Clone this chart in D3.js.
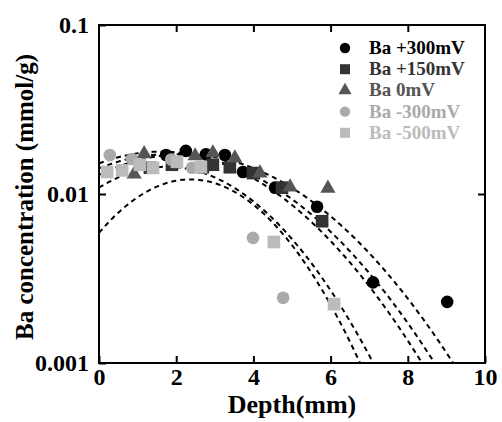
<!DOCTYPE html>
<html>
<head>
<meta charset="utf-8">
<script src="https://cdn.jsdelivr.net/npm/d3@7"></script>
<style>
  body { margin: 0; background: #fff; }
  svg { display: block; font-family: "Liberation Serif", "Times New Roman", serif; font-weight: bold; }
</style>
</head>
<body>
<script>
// data (depth in mm, concentration in mmol/g)
var depthP300 = [1.74, 2.25, 2.77, 3.26, 3.73, 4.56, 5.65, 7.10, 9.02];
var concP300  = [0.0170, 0.0180, 0.0172, 0.0170, 0.0135, 0.0109, 0.0084, 0.0030, 0.0023];

var depthP150 = [1.32, 1.89, 2.69, 2.95, 3.39, 3.99, 4.74, 5.78];
var concP150  = [0.0143, 0.0149, 0.0144, 0.0149, 0.0144, 0.0133, 0.0109, 0.0069];

var depthZero = [0.91, 1.17, 2.49, 2.95, 3.52, 4.17, 4.95, 5.93];
var concZero  = [0.0131, 0.0173, 0.0168, 0.0175, 0.0163, 0.0133, 0.0110, 0.0108];

var depthM300 = [0.28, 0.85, 1.87, 2.41, 3.99, 4.77];
var concM300  = [0.0170, 0.0161, 0.0160, 0.0143, 0.0055, 0.00243];

var depthM500 = [0.21, 0.60, 1.06, 1.40, 2.02, 2.64, 4.53, 6.09];
var concM500  = [0.0135, 0.0138, 0.0149, 0.0143, 0.0155, 0.0144, 0.0052, 0.00223];

var seriesNames = ["Ba +300mV", "Ba +150mV", "Ba 0mV", "Ba -300mV", "Ba -500mV"];

// gaussian fit curves: peak value, peak depth, log-curvature
var fitPeak   = [0.0122, 0.0145, 0.0178, 0.0172, 0.0172];
var fitCenter = [2.37, 1.75, 1.6, 1.8, 2.2];
var fitK      = [0.0563, 0.0405, 0.0273, 0.026, 0.0254];

var xTicks = [0, 2, 4, 6, 8, 10];
var yTicks = [0.001, 0.01, 0.1];
var yTickLabels = ["0.001", "0.01", "0.1"];

var W = 502, H = 422;
var margin = {top: 25, right: 17, bottom: 59, left: 99};
var width = W - margin.left - margin.right;
var height = H - margin.top - margin.bottom;

var svg = d3.select("body").append("svg")
    .attr("width", W)
    .attr("height", H);

var g = svg.append("g")
    .attr("transform", "translate(" + margin.left + "," + margin.top + ")");

var x = d3.scaleLinear().domain([0, 10]).range([0, width]);
var y = d3.scaleLog().domain([0.001, 0.1]).range([height, 0]);

g.append("clipPath").attr("id", "plotclip")
  .append("rect").attr("width", width).attr("height", height);

// fit curves
var line = d3.line()
    .x(function(d) { return x(d[0]); })
    .y(function(d) { return y(d[1]); });

var curveGroup = g.append("g").attr("clip-path", "url(#plotclip)");
fitPeak.forEach(function(p, i) {
    var pts = d3.range(0, 10.001, 0.05).map(function(t) {
        var lg = Math.log10(p) - fitK[i] * (t - fitCenter[i]) * (t - fitCenter[i]);
        return [t, Math.pow(10, lg)];
    });
    curveGroup.append("path")
        .datum(pts)
        .attr("fill", "none")
        .attr("stroke", "#000")
        .attr("stroke-width", 2)
        .attr("stroke-dasharray", "5,4")
        .attr("d", line);
});

// markers
var series = [
    {depth: depthP300, conc: concP300, shape: d3.symbolCircle,   color: "#000"},
    {depth: depthP150, conc: concP150, shape: d3.symbolSquare,   color: "#333"},
    {depth: depthZero, conc: concZero, shape: d3.symbolTriangle, color: "#555"},
    {depth: depthM300, conc: concM300, shape: d3.symbolCircle,   color: "#aaa"},
    {depth: depthM500, conc: concM500, shape: d3.symbolSquare,   color: "#bbb"}
];

function markerSize(shape, big) {
    if (shape === d3.symbolCircle) return big ? 125 : 85;
    if (shape === d3.symbolSquare) return big ? 160 : 100;
    return big ? 100 : 75;
}

series.forEach(function(s) {
    var sym = d3.symbol().type(s.shape).size(markerSize(s.shape, true));
    g.append("g").selectAll("path")
        .data(s.depth.map(function(d, i) { return [d, s.conc[i]]; }))
        .enter().append("path")
        .attr("d", sym)
        .attr("fill", s.color)
        .attr("transform", function(d) {
            return "translate(" + x(d[0]) + "," + y(d[1]) + ")";
        });
});

// axes, ticks pointing inward
var xAxis = d3.axisBottom(x).tickValues(xTicks).tickSize(-7).tickPadding(5).tickFormat(d3.format("d"));
var yAxis = d3.axisLeft(y).tickValues(yTicks).tickSize(-7).tickPadding(10)
    .tickFormat(function(d, i) { return yTickLabels[i]; });

g.append("g").attr("transform", "translate(0," + height + ")").call(xAxis);
g.append("g").call(yAxis);

g.append("g").call(d3.axisTop(x).tickValues(xTicks.slice(1, -1)).tickSize(-7).tickFormat(""));
g.append("g").attr("transform", "translate(" + width + ",0)")
    .call(d3.axisRight(y).tickValues([0.01]).tickSize(-7).tickFormat(""));

g.selectAll(".domain").remove();
g.selectAll(".tick line").attr("stroke", "#000").attr("stroke-width", 2);
g.selectAll(".tick text").attr("fill", "#000").style("font-size", "24px")
    .style("font-family", "Liberation Serif, serif").style("font-weight", "bold");

g.append("rect")
    .attr("width", width).attr("height", height)
    .attr("fill", "none").attr("stroke", "#000").attr("stroke-width", 2);

// axis titles
svg.append("text")
    .attr("x", margin.left + width / 2)
    .attr("y", 413)
    .attr("text-anchor", "middle")
    .style("font-size", "26px")
    .text("Depth(mm)");

svg.append("text")
    .attr("transform", "translate(33," + 197 + ") rotate(-90)")
    .attr("text-anchor", "middle")
    .style("font-size", "25px")
    .text("Ba concentration (mmol/g)");

// legend
var legend = svg.append("g").attr("transform", "translate(345,48)");
series.forEach(function(s, i) {
    var row = legend.append("g").attr("transform", "translate(0," + (i * 21.2) + ")");
    row.append("path")
        .attr("d", d3.symbol().type(s.shape).size(markerSize(s.shape, false)))
        .attr("fill", s.color);
    row.append("text")
        .attr("x", 24)
        .attr("y", 6)
        .attr("fill", s.color)
        .style("font-size", "19px")
        .text(seriesNames[i]);
});
</script>
</body>
</html>
